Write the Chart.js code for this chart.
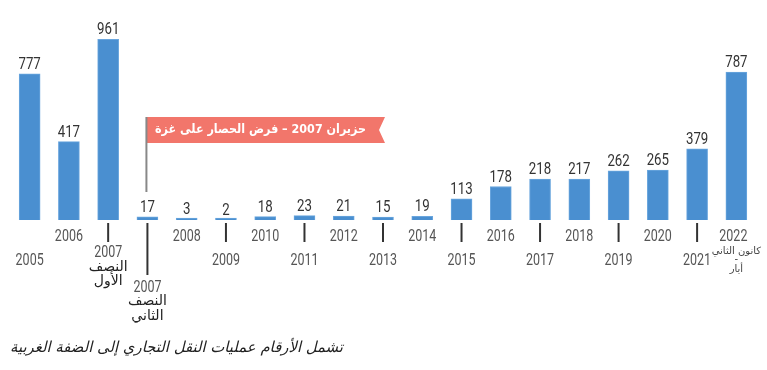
<!DOCTYPE html>
<html>
<head>
<meta charset="utf-8">
<script src="https://cdn.jsdelivr.net/npm/chart.js@4/dist/chart.umd.min.js"></script>
<style>
html,body{margin:0;padding:0;background:#fff;}
#wrap{position:relative;width:767px;height:370px;}
</style>
</head>
<body>
<div id="wrap"><canvas id="c" width="767" height="370"></canvas></div>
<script>
// ---- data ----
const categories = ['2005','2006','2007a','2007b','2008','2009','2010','2011','2012','2013','2014','2015','2016','2017','2018','2019','2020','2021','2022'];
const values = [777,417,961,17,3,2,18,23,21,15,19,113,178,218,217,262,265,379,787];
// tick label lines (year + optional Arabic sub-lines)
const yearLabels = ['2005','2006','2007','2007','2008','2009','2010','2011','2012','2013','2014','2015','2016','2017','2018','2019','2020','2021','2022'];
const subLabels = {2:['النصف','الأول'], 3:['النصف','الثاني'], 18:['كانون الثاني','-','أيار']};
const bannerText = 'حزيران 2007 – فرض الحصار على غزة';
const captionText = 'تشمل الأرقام عمليات النقل التجاري إلى الضفة الغربية';

const BLUE = '#4a8fd0';
const NUM_FONT = '"Roboto", sans-serif';
const AR_FONT = '"DejaVu Sans", sans-serif';
const SQUEEZE = 0.78;

function narrowText(ctx, txt, x, y) {
  const w = ctx.measureText(txt).width;
  ctx.fillText(txt, x, y, w * SQUEEZE);
}

const labelPlugin = {
  id: 'customLabels',
  afterDraw(chart) {
    const ctx = chart.ctx;
    const x = chart.scales.x;
    const y = chart.scales.y;
    const base = y.getPixelForValue(0);
    ctx.save();
    // value labels
    ctx.textAlign = 'center';
    ctx.textBaseline = 'alphabetic';
    ctx.fillStyle = '#333';
    ctx.font = '17px ' + NUM_FONT;
    values.forEach((v, i) => {
      const px = x.getPixelForValue(i);
      const py = y.getPixelForValue(v);
      narrowText(ctx, String(v), px, py - 5);
    });
    // category labels
    ctx.strokeStyle = '#333';
    ctx.lineWidth = 2;
    const tick = (px, len) => { ctx.beginPath(); ctx.moveTo(px, base + 3); ctx.lineTo(px, base + len); ctx.stroke(); };
    categories.forEach((c, i) => {
      const px = x.getPixelForValue(i);
      ctx.textBaseline = 'middle';
      ctx.fillStyle = '#555';
      ctx.font = '16px ' + NUM_FONT;
      ctx.direction = 'ltr';
      if (i === 2) {
        tick(px, 22);
        narrowText(ctx, yearLabels[i], px, base + 33);
        ctx.fillStyle = '#222';
        ctx.font = '14px ' + AR_FONT;
        ctx.direction = 'rtl';
        ctx.fillText(subLabels[i][0], px, base + 47);
        ctx.fillText(subLabels[i][1], px, base + 61);
      } else if (i === 3) {
        tick(px, 55);
        narrowText(ctx, yearLabels[i], px, base + 68);
        ctx.fillStyle = '#222';
        ctx.font = '14px ' + AR_FONT;
        ctx.direction = 'rtl';
        ctx.fillText(subLabels[i][0], px, base + 81);
        ctx.fillText(subLabels[i][1], px, base + 96);
      } else if (i === 0) {
        narrowText(ctx, yearLabels[i], px, base + 41);
      } else if (i === 1) {
        narrowText(ctx, yearLabels[i], px, base + 17);
      } else if (i === 18) {
        narrowText(ctx, yearLabels[i], px - 3, base + 17);
        ctx.fillStyle = '#444';
        ctx.font = '10px ' + AR_FONT;
        ctx.direction = 'rtl';
        ctx.fillText(subLabels[i][0], px, base + 31);
        ctx.fillText(subLabels[i][1], px, base + 39);
        ctx.fillText(subLabels[i][2], px, base + 49);
      } else if (i % 2 === 0) {
        narrowText(ctx, yearLabels[i], px, base + 17);
      } else {
        tick(px, 22);
        narrowText(ctx, yearLabels[i], px, base + 41);
      }
    });
    // banner
    const px3 = x.getPixelForValue(3);
    const bx = px3 - 1, bTop = 117, bBot = 143, bRight = 385, notch = 6;
    ctx.fillStyle = '#f2766b';
    ctx.beginPath();
    ctx.moveTo(bx, bTop); ctx.lineTo(bRight, bTop); ctx.lineTo(bRight - notch, (bTop + bBot) / 2);
    ctx.lineTo(bRight, bBot); ctx.lineTo(bx, bBot); ctx.closePath(); ctx.fill();
    ctx.strokeStyle = '#888';
    ctx.lineWidth = 2;
    ctx.beginPath(); ctx.moveTo(bx, bTop); ctx.lineTo(bx, 192); ctx.stroke();
    ctx.fillStyle = '#fff';
    ctx.font = 'bold 13px ' + AR_FONT;
    ctx.direction = 'rtl';
    ctx.textAlign = 'right';
    ctx.textBaseline = 'middle';
    ctx.fillText(bannerText, 366, 130, 211);
    // caption
    ctx.fillStyle = '#222';
    ctx.font = 'italic 15px ' + AR_FONT;
    ctx.textAlign = 'left';
    ctx.direction = 'rtl';
    ctx.fillText(captionText, 10, 348, 333);
    ctx.restore();
  }
};

new Chart(document.getElementById('c'), {
  type: 'bar',
  data: {
    labels: categories,
    datasets: [{
      data: values,
      backgroundColor: BLUE,
      borderColor: '#6aa6de',
      borderWidth: 1,
      barThickness: 21,
      minBarLength: 2
    }]
  },
  options: {
    responsive: false,
    animation: false,
    layout: { padding: { left: 10, right: 11, top: 32, bottom: 150 } },
    plugins: { legend: { display: false }, tooltip: { enabled: false } },
    scales: {
      x: { display: false, offset: true, grid: { display: false } },
      y: { display: false, min: 0, max: 1000, grid: { display: false } }
    }
  },
  plugins: [labelPlugin]
});
</script>
</body>
</html>
